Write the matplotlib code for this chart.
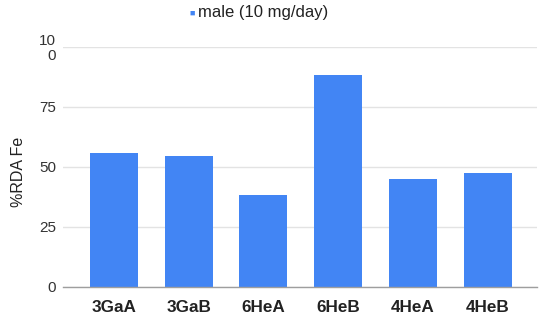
import matplotlib
matplotlib.use("Agg")
import matplotlib.pyplot as plt

categories = ["3GaA", "3GaB", "6HeA", "6HeB", "4HeA", "4HeB"]
values = [55.8, 54.5, 38.2, 88.3, 44.9, 47.2]
yticks = [0, 25, 50, 75, 100]
ytick_labels = ["0", "25", "50", "75", "10\n0"]
series_name = "male (10 mg/day)"
ylabel = "%RDA Fe"

plt.rcParams['font.family'] = ['Liberation Sans', 'DejaVu Sans']

fig = plt.figure(figsize=(5.5, 3.2), dpi=100)
ax = fig.add_axes([63/550, 1-286.7/320, (537-63)/550, (286.7-46.7)/320])

bar_color = "#4285F4"
x = list(range(len(categories)))
ax.bar(x, values, width=0.64, color=bar_color, zorder=3)

ax.set_xlim(-0.68, 5.66)
ax.set_ylim(0, 100)
ax.set_yticks(yticks)
ax.set_yticklabels(ytick_labels, fontsize=11, color="#333333", linespacing=1.1)
ax.set_xticks(x)
ax.set_xticklabels(categories, fontsize=12.3, fontweight="bold", color="#222222")
ax.tick_params(axis="y", length=0, pad=5)
ax.tick_params(axis="x", length=0, pad=9.5)

ax.grid(axis="y", color="#e3e3e3", linewidth=1, zorder=0)
for s in ["top", "right", "left"]:
    ax.spines[s].set_visible(False)
ax.spines["bottom"].set_color("#9e9e9e")
ax.spines["bottom"].set_linewidth(1)
ax.spines["bottom"].set_zorder(4)

ax.set_ylabel(ylabel, fontsize=11.5, color="#222222")
ax.yaxis.set_label_coords(-37/474, 0.48)

# legend
fig.text(191.7/550, 1-13/320, "\u25A0", fontsize=6.5, color=bar_color, ha="center", va="center")
fig.text(198/550, 1-13/320, series_name, fontsize=12, color="#222222", ha="left", va="center")

fig.savefig("out.png", dpi=100)
